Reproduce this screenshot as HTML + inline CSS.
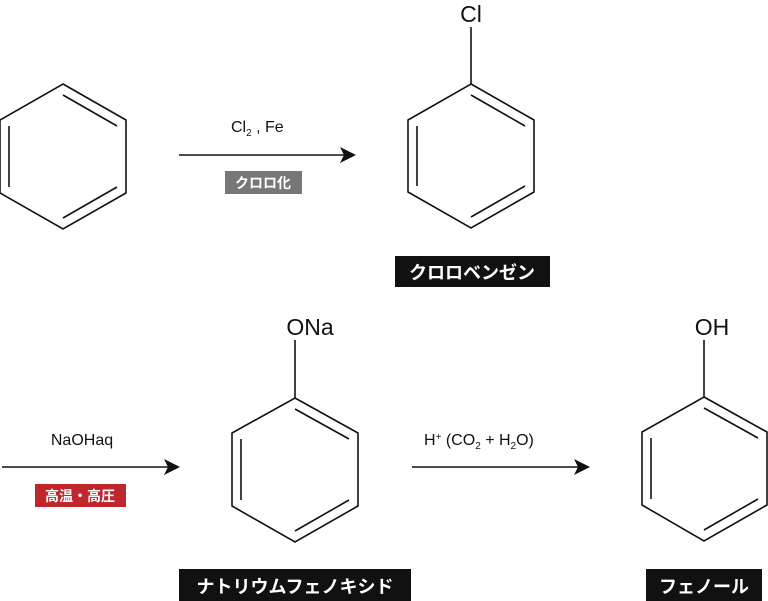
<!DOCTYPE html>
<html><head><meta charset="utf-8"><style>
html,body{margin:0;padding:0;background:#fff;}
svg{display:block;}
text{font-family:"Liberation Sans","Noto Sans CJK JP",sans-serif;}
</style></head><body>
<svg width="768" height="601" viewBox="0 0 768 601" xmlns="http://www.w3.org/2000/svg">
<g fill="none" stroke="#111" stroke-width="1.6">
<polygon points="63,84 126,120 126,193 63,229 0,193 0,120"/>
<line x1="63" y1="95" x2="117" y2="126"/>
<line x1="9" y1="126" x2="9" y2="187"/>
<line x1="63" y1="218" x2="117" y2="187"/>
<polygon points="471,84 534,120 534,192 471,228 408,192 408,120"/>
<line x1="471" y1="95" x2="525" y2="126"/>
<line x1="417" y1="126" x2="417" y2="186"/>
<line x1="471" y1="217" x2="525" y2="186"/>
<line x1="471" y1="84" x2="471" y2="27"/>
<polygon points="295,398 358,433 358,506 295,542 232,506 232,433"/>
<line x1="295" y1="409" x2="349" y2="439"/>
<line x1="241" y1="439" x2="241" y2="500"/>
<line x1="295" y1="531" x2="349" y2="500"/>
<line x1="295" y1="398" x2="295" y2="340"/>
<polygon points="704,397 767,432 767,505 704,541 642,505 642,432"/>
<line x1="704" y1="408" x2="758" y2="438"/>
<line x1="651" y1="438" x2="651" y2="499"/>
<line x1="704" y1="530" x2="758" y2="499"/>
<line x1="704" y1="397" x2="704" y2="340"/>
<line x1="179" y1="155" x2="345" y2="155"/>
<line x1="2" y1="467" x2="170" y2="467"/>
<line x1="412" y1="467" x2="579" y2="467"/>
</g>
<g fill="#111">
<polygon points="356,155 340,147 344,155 340,163"/>
<polygon points="180,467 164,459 168,467 164,475"/>
<polygon points="590,467 574,459 578,467 574,475"/>
</g>
<text x="471" y="22" font-size="23" text-anchor="middle" fill="#111">Cl</text>
<text x="310" y="335" font-size="23" text-anchor="middle" fill="#111">ONa</text>
<text x="712" y="335" font-size="23" text-anchor="middle" fill="#111">OH</text>
<text x="231" y="132" font-size="16" fill="#111">Cl<tspan font-size="10" dy="4">2</tspan><tspan dy="-4"> , Fe</tspan></text>
<text x="82" y="445" font-size="16" text-anchor="middle" fill="#111">NaOHaq</text>
<text x="424" y="445" font-size="16" fill="#111">H<tspan font-size="10" dy="-5">+</tspan><tspan dy="5">  (CO</tspan><tspan font-size="10" dy="4">2</tspan><tspan dy="-4"> + H</tspan><tspan font-size="10" dy="4">2</tspan><tspan dy="-4">O)</tspan></text>
<rect x="225" y="171" width="77" height="23" fill="#777"/>
<text x="263" y="188" font-size="14" text-anchor="middle" fill="#fff" font-weight="bold">クロロ化</text>
<rect x="35" y="484" width="91" height="23" fill="#c0272d"/>
<text x="80" y="501" font-size="14" text-anchor="middle" fill="#fff" font-weight="bold">高温・高圧</text>
<rect x="395" y="256" width="155" height="31" fill="#111"/>
<text x="472" y="279" font-size="18" text-anchor="middle" fill="#fff" font-weight="bold">クロロベンゼン</text>
<rect x="179" y="569" width="232" height="32" fill="#111"/>
<text x="295" y="593" font-size="18" text-anchor="middle" fill="#fff" font-weight="bold">ナトリウムフェノキシド</text>
<rect x="646" y="569" width="116" height="32" fill="#111"/>
<text x="704" y="593" font-size="18" text-anchor="middle" fill="#fff" font-weight="bold">フェノール</text>
</svg>
</body></html>
